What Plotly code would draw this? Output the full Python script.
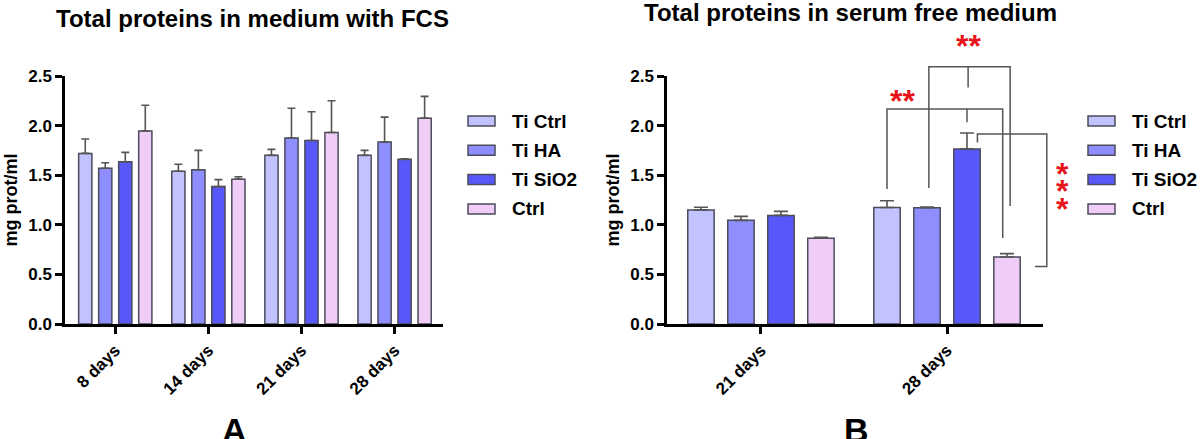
import plotly.graph_objects as go

# ---------------- data ----------------
series = ["Ti Ctrl", "Ti HA", "Ti SiO2", "Ctrl"]
colors = ["#c2c2ff", "#8e8eff", "#5858fa", "#efcdf6"]

days_a = ["8 days", "14 days", "21 days", "28 days"]
a_ti_ctrl = [1.72, 1.54, 1.70, 1.70]
a_ti_ctrl_err = [0.145, 0.07, 0.06, 0.05]
a_ti_ha = [1.57, 1.555, 1.875, 1.835]
a_ti_ha_err = [0.055, 0.195, 0.30, 0.25]
a_ti_sio2 = [1.635, 1.385, 1.85, 1.66]
a_ti_sio2_err = [0.095, 0.07, 0.29, 0.005]
a_ctrl = [1.945, 1.46, 1.93, 2.075]
a_ctrl_err = [0.26, 0.025, 0.32, 0.22]

days_b = ["21 days", "28 days"]
b_ti_ctrl = [1.15, 1.175]
b_ti_ctrl_err = [0.027, 0.067]
b_ti_ha = [1.045, 1.172]
b_ti_ha_err = [0.04, 0.006]
b_ti_sio2 = [1.095, 1.765]
b_ti_sio2_err = [0.04, 0.16]
b_ctrl = [0.865, 0.675]
b_ctrl_err = [0.008, 0.034]

title_a = "Total proteins in medium with FCS"
title_b = "Total proteins in serum free medium"
y_title = "mg prot/ml"
y_ticks = [0.0, 0.5, 1.0, 1.5, 2.0, 2.5]

# ---------------- layout geometry ----------------
W, H = 1200, 439
FONT = "Liberation Sans, Arial, sans-serif"
BARGAP = 0.14
BARGROUPGAP = 0.34

def px(x):
    return x / W

def py(y):
    return 1 - y / H

dom_y = [py(324), py(76)]
dom_xa = [px(65), px(443)]
dom_xb = [px(667), px(1043)]
range_a = [-0.54, 3.52]
range_b = [-0.505, 1.516]
range_y = [0, 2.5]

fig = go.Figure()

vals_a = [a_ti_ctrl, a_ti_ha, a_ti_sio2, a_ctrl]
errs_a = [a_ti_ctrl_err, a_ti_ha_err, a_ti_sio2_err, a_ctrl_err]
vals_b = [b_ti_ctrl, b_ti_ha, b_ti_sio2, b_ctrl]
errs_b = [b_ti_ctrl_err, b_ti_ha_err, b_ti_sio2_err, b_ctrl_err]

for name, col, v, e in zip(series, colors, vals_a, errs_a):
    fig.add_trace(go.Bar(
        x=days_a, y=v, name=name, xaxis="x", yaxis="y",
        marker=dict(color=col, line=dict(color="#4b4b5c", width=1.5)),
        error_y=dict(type="data", array=e, arrayminus=[0] * len(e), symmetric=False,
                     color="#555555", thickness=1.6, width=4),
        showlegend=False,
    ))

for name, col, v, e in zip(series, colors, vals_b, errs_b):
    fig.add_trace(go.Bar(
        x=days_b, y=v, name=name, xaxis="x2", yaxis="y2",
        marker=dict(color=col, line=dict(color="#4b4b5c", width=1.5)),
        error_y=dict(type="data", array=e, arrayminus=[0] * len(e), symmetric=False,
                     color="#555555", thickness=1.6, width=7),
        showlegend=False,
    ))

xcommon = dict(showline=True, linewidth=2.5, linecolor="black", ticks="outside",
               ticklen=7, tickwidth=2.5, tickcolor="black", tickangle=-45,
               tickfont=dict(family=FONT, size=17, color="black", weight="bold"),
               showgrid=False, zeroline=False, fixedrange=True, automargin=False)
ycommon = dict(showline=True, linewidth=2.5, linecolor="black", ticks="outside",
               ticklen=7, tickwidth=2.5, tickcolor="black", range=range_y,
               tickvals=y_ticks, tickformat=".1f",
               tickfont=dict(family=FONT, size=17, color="black", weight="bold"),
               showgrid=False, zeroline=False, domain=dom_y, automargin=False,
               title=dict(text=y_title, standoff=6,
                          font=dict(family=FONT, size=18, color="black", weight="bold")))

fig.update_layout(
    width=W, height=H,
    margin=dict(l=0, r=0, t=0, b=0, pad=0, autoexpand=False),
    paper_bgcolor="white", plot_bgcolor="white",
    barmode="group", bargap=BARGAP, bargroupgap=BARGROUPGAP,
    xaxis=dict(domain=dom_xa, range=range_a, anchor="y", **xcommon),
    yaxis=dict(anchor="x", **ycommon),
    xaxis2=dict(domain=dom_xb, range=range_b, anchor="y2", **xcommon),
    yaxis2=dict(anchor="x2", **ycommon),
    showlegend=False,
)

annotations = []
shapes = []

# titles
annotations.append(dict(text=title_a, x=px(252), y=py(19), xref="paper", yref="paper",
                        showarrow=False, xanchor="center", yanchor="middle",
                        font=dict(family=FONT, size=24, color="black", weight="bold")))
annotations.append(dict(text=title_b, x=px(851), y=py(13), xref="paper", yref="paper",
                        showarrow=False, xanchor="center", yanchor="middle",
                        font=dict(family=FONT, size=24, color="black", weight="bold")))
# panel letters
for letter, cx in (("A", 234), ("B", 857)):
    annotations.append(dict(text=letter, x=px(cx), y=py(430), xref="paper", yref="paper",
                            showarrow=False, xanchor="center", yanchor="middle",
                            font=dict(family=FONT, size=34, color="black", weight="bold")))

# manual legends (wide rectangular swatches)
for sx, tx in ((468, 510), (1088, 1130)):
    for i, (name, col) in enumerate(zip(series, colors)):
        cy = 121 + i * 29.3
        shapes.append(dict(type="rect", xref="paper", yref="paper",
                           x0=px(sx), x1=px(sx + 27), y0=py(cy + 5), y1=py(cy - 5),
                           fillcolor=col, line=dict(color="#4b4b5c", width=1.5)))
        annotations.append(dict(text=name, x=px(tx), y=py(cy), xref="paper", yref="paper",
                                showarrow=False, xanchor="left", yanchor="middle",
                                font=dict(family=FONT, size=19, color="black", weight="bold")))

# significance brackets in panel B (data coords -> paper)
def bx(d):
    return dom_xb[0] + (d - range_b[0]) / (range_b[1] - range_b[0]) * (dom_xb[1] - dom_xb[0])

def by(d):
    return dom_y[0] + (d - range_y[0]) / (range_y[1] - range_y[0]) * (dom_y[1] - dom_y[0])

wbar = (1 - BARGAP) / 4

def center(group, idx):
    return group + (idx - 1.5) * wbar

def path(points):
    return "M " + " L ".join(f"{bx(x):.5f},{by(y):.5f}" for x, y in points)

line_style = dict(color="#555555", width=1.5)
brackets = [
    # top bracket: Ti HA vs Ctrl, stem over Ti SiO2
    [(center(1, 1) + 0.01, 1.37), (center(1, 1) + 0.01, 2.594),
     (center(1, 3) + 0.017, 2.594), (center(1, 3) + 0.017, 1.19)],
    [(center(1, 2) + 0.006, 2.594), (center(1, 2) + 0.006, 2.383)],
    # lower bracket: Ti Ctrl vs Ctrl
    [(center(1, 0), 1.36), (center(1, 0), 2.168),
     (center(1, 3) - 0.023, 2.168), (center(1, 3) - 0.023, 0.866)],
    [(center(1, 2), 2.168), (center(1, 2), 2.034)],
    # right bracket: Ti SiO2 vs Ctrl
    [(center(1, 2) + 0.056, 1.829), (center(1, 2) + 0.056, 1.916),
     (center(1, 3) + 0.214, 1.916), (center(1, 3) + 0.214, 0.58),
     (center(1, 3) + 0.15, 0.58)],
]
for pts in brackets:
    shapes.append(dict(type="path", xref="paper", yref="paper", path=path(pts),
                       line=line_style, fillcolor="rgba(0,0,0,0)"))

star_font = dict(family=FONT, size=32, color="#e8141c", weight="bold")
stars = [("**", 1.113, 2.82), ("**", 0.762, 2.266),
         ("*", 1.622, 1.537), ("*", 1.622, 1.36), ("*", 1.622, 1.178)]
for txt, sx_, sy_ in stars:
    annotations.append(dict(text=txt, x=bx(sx_), y=by(sy_), xref="paper", yref="paper",
                            showarrow=False, xanchor="center", yanchor="middle",
                            yshift=-2, font=star_font))

fig.update_layout(annotations=annotations, shapes=shapes)

fig.write_html(
    "out.html",
    config={"displayModeBar": False},
    post_script="document.body.style.margin='0';document.body.style.overflow='hidden';",
)
